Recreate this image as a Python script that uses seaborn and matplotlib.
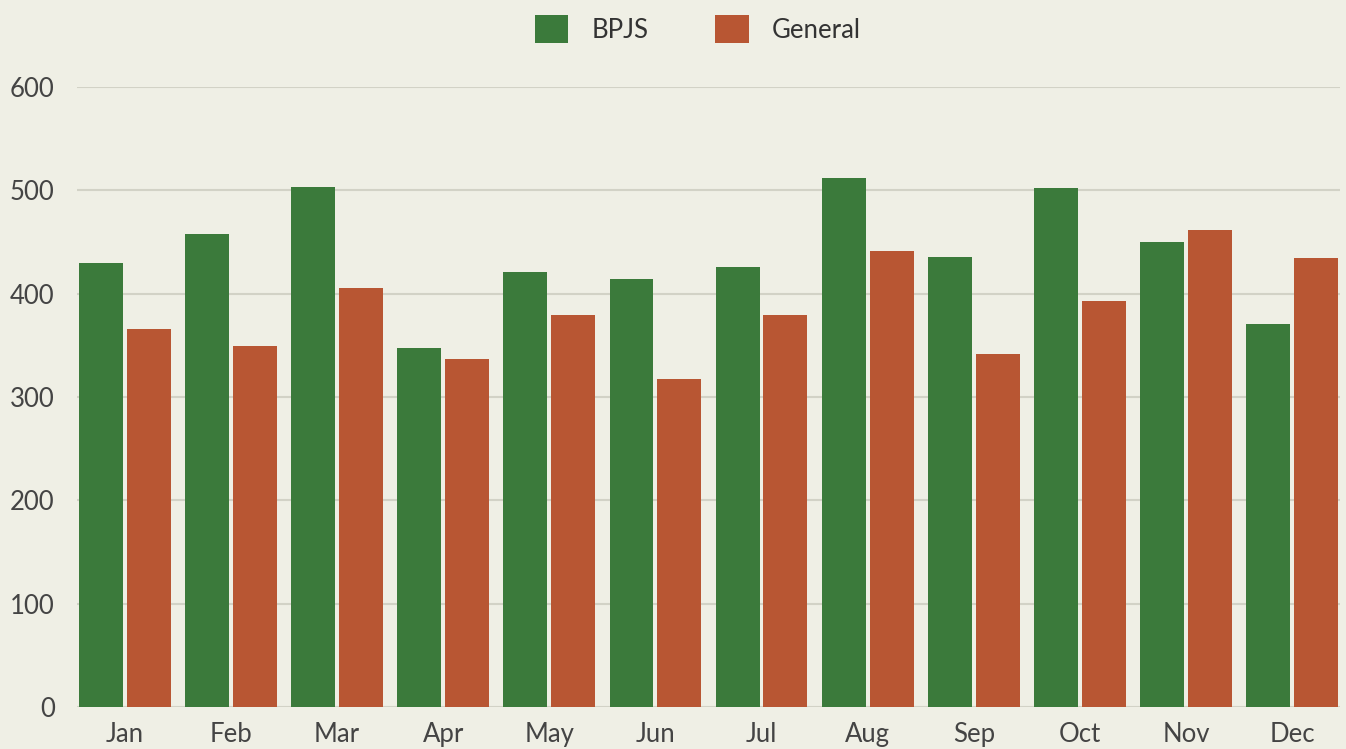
import pandas as pd
import matplotlib.pyplot as plt
import seaborn as sns

# Monthly counts
months = ['Jan', 'Feb', 'Mar', 'Apr', 'May', 'Jun', 'Jul', 'Aug', 'Sep', 'Oct', 'Nov', 'Dec']
bpjs = [430, 458, 503, 347, 421, 414, 426, 512, 436, 502, 450, 371]
general = [366, 349, 406, 337, 379, 317, 379, 441, 342, 393, 462, 435]

df = pd.DataFrame({'Month': months * 2,
                   'Count': bpjs + general,
                   'Type': ['BPJS'] * 12 + ['General'] * 12})

bg = '#efefe5'
sns.set_theme(style='white')
plt.rcParams['font.family'] = ['Lato', 'DejaVu Sans']

fig = plt.figure(figsize=(13.46, 7.49), dpi=100, facecolor=bg)
ax = fig.add_axes([0.0572, 0.056, 0.9383, 0.8278], facecolor=bg)

sns.barplot(data=df, x='Month', y='Count', hue='Type', order=months,
            palette=['#3b7a3b', '#b85633'], width=0.9, gap=0.08,
            saturation=1, linewidth=0, ax=ax)

ax.set_ylim(0, 600)
ax.set_xlim(-0.45, 11.45)
ax.set_yticks(range(0, 601, 100))
ax.yaxis.grid(True, color='#d2d2c6', linewidth=1.5)
ax.set_axisbelow(True)
for s in ax.spines.values():
    s.set_visible(False)
ax.set_xlabel('')
ax.set_ylabel('')
ax.tick_params(axis='both', labelsize=18.5, colors='#444444', length=0)
ax.tick_params(axis='y', pad=16)
ax.tick_params(axis='x', pad=11)

ax.legend(loc='upper center', bbox_to_anchor=(0.4915, 1.153), ncol=2, frameon=False,
          fontsize=18.5, handlelength=1.3, handleheight=1.3, columnspacing=2.6,
          handletextpad=0.9, labelcolor='#333333')

fig.savefig('out.png', dpi=100, facecolor=bg)
